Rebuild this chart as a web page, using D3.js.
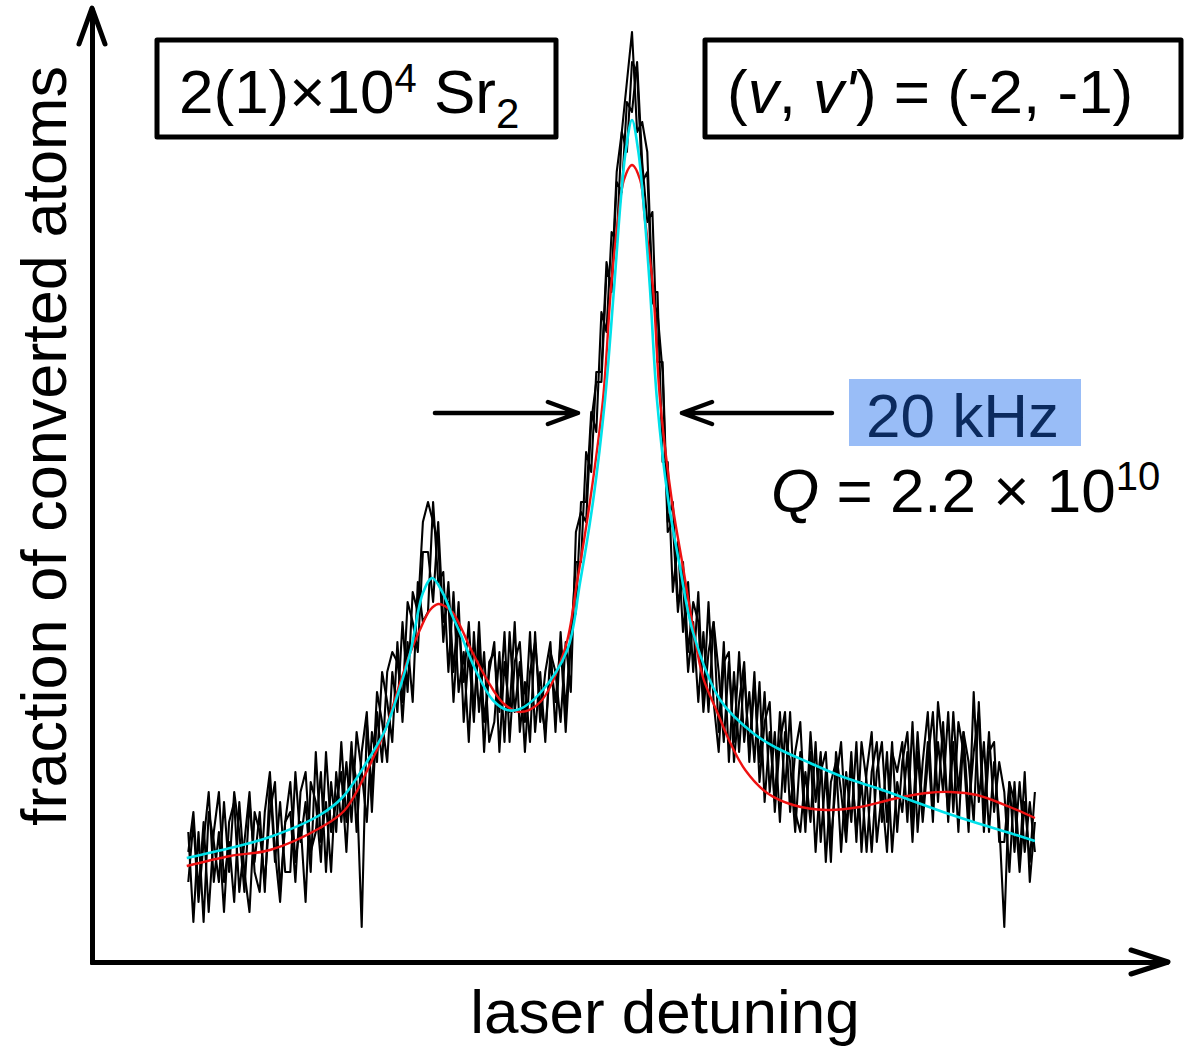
<!DOCTYPE html>
<html><head><meta charset="utf-8">
<script src="https://cdn.jsdelivr.net/npm/d3@7"></script>
<style>body{margin:0;background:#fff}svg{display:block}text{font-family:"Liberation Sans",Arial,sans-serif}</style>
</head><body><svg id="c" width="1186" height="1047"></svg>
<script>
// ---- data (detuning in kHz, signal in arbitrary units) ----
const detuningStart = -87, detuningStep = 1;
const traceA = [8,14,6,12,17,8,13,5,14,16, 7,12,17,9,7,15,19,11,6,14, 18,10,14,6,18,16,10,21,13,16,
 19,11,21,18,3.5,24,17,27,24,20, 29,25,34,27,37,35,44,46,44,42, 32,38,29,36,24,31,24,34,24,29,
 32,21,30,25,34,23,28,22,33,24, 29,32,23,33,25,33,35,46,46,55, 53,65,63,73,72,83,88,93,83,84,
 81,67,67,50,50,37,42,33,38,29, 37,26,36,26,21,30,31,20,26,30, 20,28,20,27,17,23,14,23,20,13,
 21,13,23,16,21,10,18,20,11,19, 14,22,11,19,23,12,17,11,21,19, 22,14,24,13,20,25,15,22,17,25,
 15,24,21,13,27,16,22,13,20,14, 3.5,18,11,18,11,16,11];
const traceB = [13,4,13,4,15,12,8,16,9,17, 13,7,16,10,15,7,18,10,16,9, 9,19,12,16,9,21,12,16,9,19,
 14,20,14,23,19,14,23,20,29,26, 22,32,24,32,26,38,34,35,46,38, 39,29,37,27,31,22,33,25,31,22,
 24,31,22,33,25,30,21,29,32,26, 23,30,26,32,23,32,40,40,51,49, 59,59,70,67,78,77,86,85,90,80,
 74,75,60,60,44,46,36,38,29,34, 26,33,25,34,29,22,30,22,31,22, 27,20,28,16,23,16,25,17,25,15,
 13,19,14,22,12,19,10,21,17,12, 20,13,18,11,19,22,14,21,11,18, 15,21,12,21,14,20,25,16,24,14,
 22,13,23,20,14,26,15,23,15,20, 17,9,18,10,19,8,14];
const traceC = [11,15,7,14,5,13,17,8,12,6, 16,9,5,15,13,8,15,18,7,14, 15,8,17,19,11,13,19,9,18,13,
 22,14,22,13,21,25,15,25,20,29, 31,30,26,36,34,31,41,41,36,44, 34,36,26,34,28,34,25,32,21,30,
 31,25,33,22,30,32,24,33,23,29, 22,31,29,24,32,27,43,45,44,54, 58,58,69,68,79,83,81,90,89,78,
 79,66,65,59,43,44,35,40,31,36, 34,25,31,34,23,32,20,29,21,29, 21,29,18,24,26,15,22,25,15,21,
 24,14,21,11,19,21,12,18,22,13, 21,12,22,18,11,19,22,14,22,13, 20,23,14,23,15,22,14,26,21,15,
 25,17,23,15,21,25,13,21,22,12, 12,18,16,9,16,10,17];

const redFitDetuning = [-87.3,-78.8,-71,-61.2,-56.3,-51.4,-48.4,-46.1,-43.5,-41.6,
 -39.6,-38,-36.7,-35.1,-33.3,-31.8,-28.4,-25.3,-22,-18,
 -13.1,-10.8,-8.2,-5.7,-4.1,-2.75,-1.6,0,1.6,2.55,
 4.1,5.5,7.8,10,12,13.9,16.7,19.2,22.2,26.5,31.6,38.2,
 44.7,51.2,57.8,62.4,67.6,74.1,79];
const redFitValues = [9.6,10.6,11.2,13.4,15.2,19.7,23.2,26.9,30.9,33.2,
 35.2,35.8,35.6,34.9,33.2,31.5,28.2,25.9,25.0,26.0,
 31.4,37.9,46.2,56.2,67.5,74.2,78.2,79.7,78.2,74.2,
 67.5,56.2,46.2,39.5,33.4,28.5,25.0,22.0,19.2,16.9,15.7,15.2,
 15.5,16.3,16.9,17.0,16.7,15.5,14.4];
const cyanFitDetuning = [-87.3,-78.8,-71,-61.2,-56.7,-51.4,-48.4,-46.1,-43.5,-41,
 -39.2,-37.1,-35.3,-33.7,-30.4,-27.3,-24.5,-22,-18,-12.7,
 -10.2,-7.6,-5.3,-3.5,-2.2,-1.2,0,1.2,2.2,3.5,
 4.9,7.1,9.4,12,17.3,23.7,28.4,34.9,41.4,48,
 54.5,61,67.6,74.1,79];
const cyanFitValues = [10.4,11.4,12.5,14.7,16.5,20.5,23.2,26.5,30.9,36.9,
 38.4,36.9,34.7,32.9,28.9,26.2,25.2,25.3,26.9,31.2,
 37.9,46.2,56.2,67.5,76.2,81.2,84.2,81.2,76.2,67.5,
 56.2,46.2,39.5,32.9,26.2,22.9,21.4,19.9,18.5,17.4,
 16.2,15.0,13.9,12.9,12.1];

const xAxisLabel = "laser detuning";
const yAxisLabel = "fraction of converted atoms";
const widthLabel = "20 kHz";
const widthMarker = [-10.6, 9.8];   // kHz where the width arrows point
const widthMarkerLevel = 54.9;

// ---- drawing ----
const svg = d3.select("#c");
const x = d3.scaleLinear().domain([-90, 90]).range([173, 1091]);
const y = d3.scaleLinear().domain([0, 93.2]).range([962, 30]);
const detuning = d3.range(traceA.length).map(i => detuningStart + i * detuningStep);

const rawLine = d3.line().x(d => x(d[0])).y(d => y(d[1]));
[traceA, traceB, traceC].forEach(t => {
  svg.append("path").datum(t.map((v, i) => [detuning[i], v]))
    .attr("d", rawLine).attr("fill", "none").attr("stroke", "#000")
    .attr("stroke-width", 2.1).attr("stroke-linejoin", "round");
});
const fitLine = d3.line().curve(d3.curveCatmullRom.alpha(0.5)).x(d => x(d[0])).y(d => y(d[1]));
svg.append("path").datum(redFitDetuning.map((k, i) => [k, redFitValues[i]]))
  .attr("d", fitLine).attr("fill", "none").attr("stroke", "#ee1111").attr("stroke-width", 2.4);
svg.append("path").datum(cyanFitDetuning.map((k, i) => [k, cyanFitValues[i]]))
  .attr("d", fitLine).attr("fill", "none").attr("stroke", "#00e1ea").attr("stroke-width", 2.6);

// axes (no ticks, arrow heads)
const xFrame = d3.scaleLinear().range([90, 1168]);
const yFrame = d3.scaleLinear().range([964, 8]);
svg.append("g").attr("transform", "translate(0,962)")
  .call(d3.axisBottom(xFrame).tickValues([]).tickSizeOuter(0))
  .call(g => g.select(".domain").attr("stroke", "#000").attr("stroke-width", 5));
svg.append("g").attr("transform", "translate(92,0)")
  .call(d3.axisLeft(yFrame).tickValues([]).tickSizeOuter(0))
  .call(g => g.select(".domain").attr("stroke", "#000").attr("stroke-width", 5));
const head = (px, py, d) => svg.append("path").attr("d", d).attr("transform", `translate(${px},${py})`)
  .attr("fill", "none").attr("stroke", "#000").attr("stroke-width", 5)
  .attr("stroke-linecap", "round").attr("stroke-linejoin", "round");
head(92, 8, "M-13,36L0,0L13,36");
head(1168, 962, "M-37,-12L0,0L-37,12");

// axis labels
svg.append("text").attr("x", 665).attr("y", 1033).attr("text-anchor", "middle")
  .attr("font-size", 62).text(xAxisLabel);
svg.append("text").attr("transform", "translate(66,446) rotate(-90)").attr("text-anchor", "middle")
  .attr("font-size", 63).text(yAxisLabel);

// boxes
function box(x0, y0, w, h) {
  svg.append("rect").attr("x", x0).attr("y", y0).attr("width", w).attr("height", h)
    .attr("fill", "#fff").attr("stroke", "#000").attr("stroke-width", 5).attr("stroke-linejoin", "round");
}
box(157, 40, 399, 97);
box(705, 40, 476, 97);
const t1 = svg.append("text").attr("x", 179).attr("y", 113).attr("font-size", 62);
t1.append("tspan").text("2(1)×10");
t1.append("tspan").attr("font-size", 40).attr("dy", -21).text("4");
t1.append("tspan").attr("dy", 21).text(" Sr");
t1.append("tspan").attr("font-size", 42).attr("dy", 15).text("2");
const t2 = svg.append("text").attr("x", 727).attr("y", 113).attr("font-size", 62);
t2.append("tspan").text("(");
t2.append("tspan").attr("font-style", "italic").text("v");
t2.append("tspan").text(", ");
t2.append("tspan").attr("font-style", "italic").text("v'");
t2.append("tspan").text(") = (-2, -1)");

// width arrows
const ay = y(widthMarkerLevel);
const arrowG = svg.append("g").attr("fill", "none").attr("stroke", "#000").attr("stroke-width", 4.5)
  .attr("stroke-linecap", "round").attr("stroke-linejoin", "round");
const lx = x(widthMarker[0]), rx = x(widthMarker[1]);
arrowG.append("path").attr("d", `M${lx - 143},${ay}H${lx}M${lx - 30},${ay - 11}L${lx},${ay}L${lx - 30},${ay + 11}`);
arrowG.append("path").attr("d", `M${rx + 150},${ay}H${rx}M${rx + 30},${ay - 11}L${rx},${ay}L${rx + 30},${ay + 11}`);

svg.append("rect").attr("x", 849).attr("y", 379).attr("width", 232).attr("height", 67).attr("fill", "#99bdf7");
svg.append("text").attr("x", 866).attr("y", 437).attr("font-size", 62).attr("fill", "#0b2a5e").text(widthLabel);

const q = svg.append("text").attr("x", 771).attr("y", 512).attr("font-size", 62);
q.append("tspan").attr("font-style", "italic").text("Q");
q.append("tspan").text(" = 2.2 × 10");
q.append("tspan").attr("font-size", 40).attr("dy", -22).text("10");
</script></body></html>
